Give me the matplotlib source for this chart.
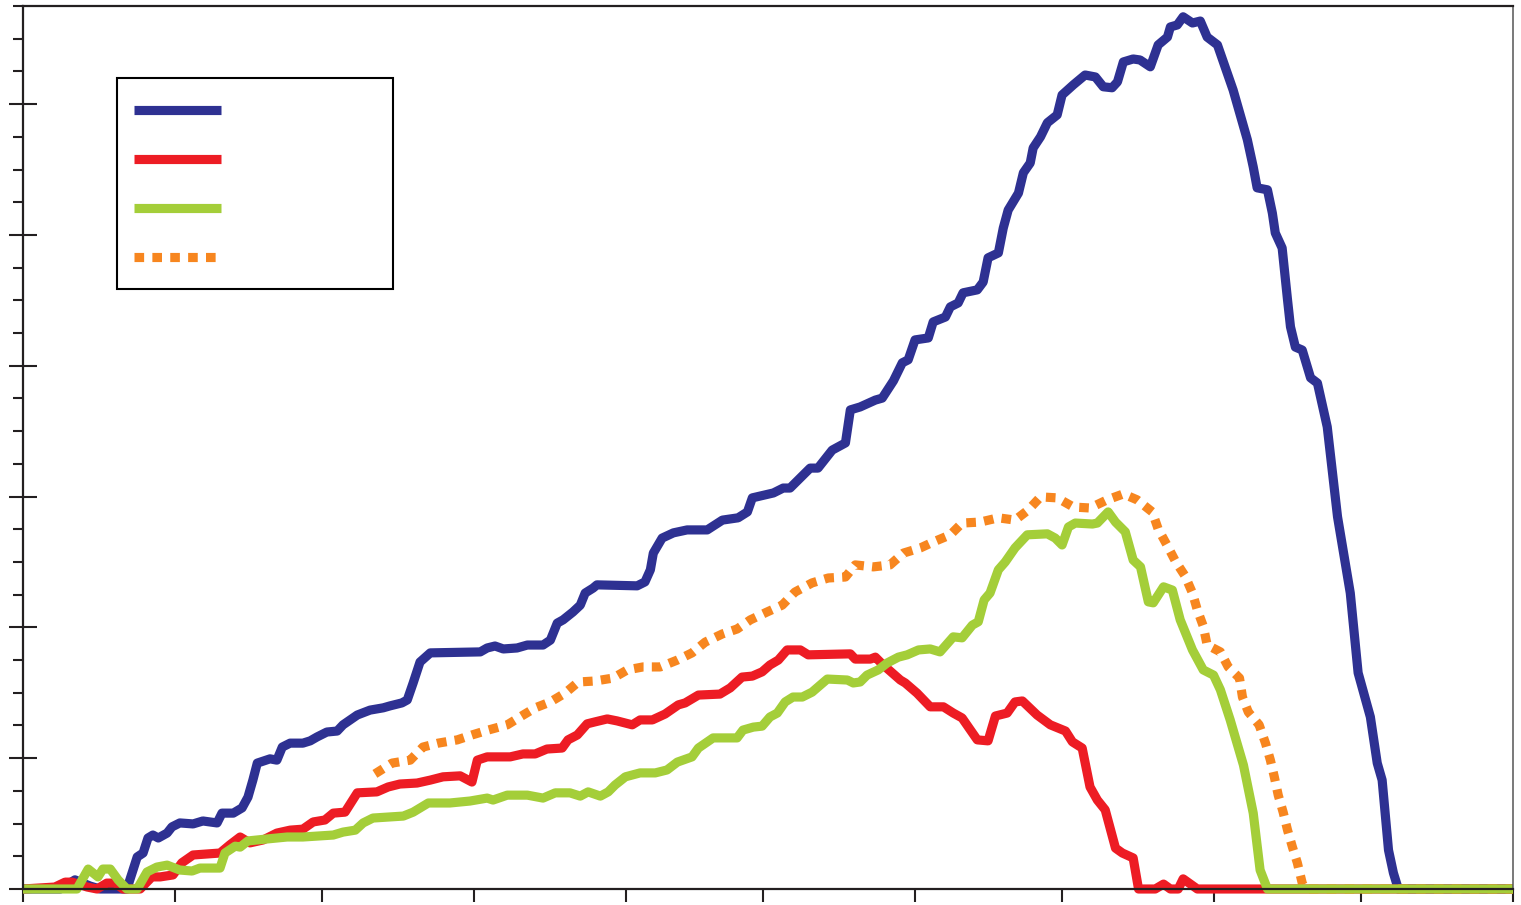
import pandas as pd
import matplotlib.pyplot as plt
import matplotlib.dates as mdates
from matplotlib.lines import Line2D
from matplotlib.patches import Rectangle

# Season runs 1 Oct - 1 Aug, x values are days since season start
season_start = pd.Timestamp("2008-10-01")
season_end = pd.Timestamp("2009-08-01")

blue_days = [0, 7.6, 10.6, 13.7, 15.7, 21.2, 23.3, 24.5, 25.5, 26.5, 27.6, 29.4, 30.4, 32.0,
             34.7, 36.7, 39.6, 40.6, 42.9, 44.7, 45.9, 46.9, 47.8, 49.0, 50.4, 51.8, 52.9,
             54.5, 57.1, 58.6, 60.0, 62.0, 64.1, 65.3, 68.2, 70.8, 73.5, 74.9, 77.3, 78.4,
             79.6, 81.0, 83.1, 93.3, 94.7, 96.3, 98.0, 100.8, 102.9, 106.1, 107.6, 109.0,
             110.2, 112.2, 113.7, 114.7, 116.3, 117.1, 125.3, 126.9, 128.0, 128.6, 130.4,
             132.7, 135.5, 139.6, 142.7, 145.9, 147.8, 148.8, 151.4, 153.1, 155.1, 156.5,
             160.6, 162.2, 165.1, 167.8, 168.8, 170.8, 173.9, 175.3, 177.6, 179.4, 180.6,
             182.0, 184.7, 185.7, 188.2, 189.2, 190.8, 191.8, 194.7, 195.9, 196.9, 199.0,
             200.0, 201.0, 203.1, 204.1, 205.5, 206.1, 207.6, 209.0, 211.0, 212.0, 214.3,
             216.7, 218.8, 220.4, 222.2, 223.3, 224.5, 226.5, 227.9, 230.0, 231.6, 233.5,
             234.1, 235.5, 236.7, 238.6, 240.2, 241.6, 243.7, 246.9, 249.8, 251.0, 251.8,
             253.9, 254.9, 255.5, 256.9, 258.0, 258.6, 259.6, 261.0, 262.7, 264.1, 266.1,
             268.2, 270.8, 272.4, 274.9, 276.3, 277.3, 278.6, 279.6, 280.6, 304]
blue_vals = [0, 0, 0.28, 0.09, 0, 0, 0.98, 1.10, 1.56, 1.65, 1.56, 1.71, 1.90, 2.02,
             1.99, 2.08, 2.02, 2.32, 2.32, 2.48, 2.81, 3.33, 3.85, 3.91, 3.98, 3.94, 4.34,
             4.46, 4.46, 4.53, 4.65, 4.80, 4.83, 5.02, 5.32, 5.47, 5.54, 5.60, 5.69, 5.78,
             6.30, 6.94, 7.22, 7.25, 7.37, 7.43, 7.34, 7.37, 7.46, 7.46, 7.61, 8.13,
             8.23, 8.47, 8.68, 9.05, 9.20, 9.30, 9.27, 9.39, 9.76, 10.27, 10.73,
             10.89, 10.98, 10.98, 11.28, 11.35, 11.53, 11.96, 12.05, 12.11, 12.26, 12.26,
             12.87, 12.87, 13.42, 13.64, 14.65, 14.74, 14.95, 15.01, 15.54, 16.09, 16.18,
             16.79, 16.85, 17.34, 17.49, 17.80, 17.92, 18.23, 18.32, 18.56, 19.30, 19.45,
             20.21, 20.76, 21.28, 21.90, 22.20, 22.66, 23.00, 23.43, 23.67, 24.28, 24.59,
             24.89, 24.83, 24.53, 24.50, 24.68, 25.29, 25.38, 25.35, 25.14, 25.81, 26.05,
             26.36, 26.42, 26.67, 26.48, 26.54, 26.05, 25.81, 24.43, 22.91, 22.08, 21.44,
             21.38, 20.67, 20.06, 19.60, 18.01, 17.19, 16.57, 16.48, 15.63, 15.47, 14.13,
             11.38, 9.05, 6.61, 5.26, 3.85, 3.33, 1.19, 0.49, 0, 0]

red_days = [0, 6.5, 8.6, 10.0, 13.1, 15.1, 17.1, 18.8, 20.4, 23.9, 26.3, 28.0, 30.6, 32.4,
            34.7, 40.2, 42.2, 44.3, 46.3, 49.0, 51.8, 54.5, 57.1, 59.2, 61.6, 63.3, 65.7,
            68.2, 72.2, 74.5, 76.9, 80.4, 83.1, 85.7, 89.2, 91.6, 92.7, 94.7, 99.4, 102.0,
            104.5, 106.9, 110.0, 111.2, 113.1, 115.1, 116.7, 119.2, 121.2, 124.3, 125.9,
            128.4, 131.0, 133.7, 135.1, 137.8, 142.2, 144.3, 146.7, 148.8, 150.8, 152.4,
            154.1, 155.9, 158.6, 160.2, 168.8, 169.8, 172.9, 173.9, 175.5, 179.0, 180.0,
            182.4, 185.1, 187.8, 189.8, 191.6, 194.7, 196.9, 198.4, 200.8, 202.4, 203.9,
            206.9, 209.6, 212.7, 214.1, 216.1, 217.7, 219.2, 220.8, 222.9, 224.3, 226.5,
            227.6, 231.0, 232.7, 234.1, 235.7, 236.7, 239.6, 304]
red_vals = [0, 0.06, 0.21, 0.21, 0.06, 0, 0.18, 0.18, 0, 0, 0.37, 0.37, 0.43, 0.80,
            1.04, 1.10, 1.35, 1.59, 1.41, 1.50, 1.71, 1.80, 1.83, 2.05, 2.11, 2.32, 2.35,
            2.94, 2.97, 3.12, 3.21, 3.24, 3.33, 3.43, 3.46, 3.27, 3.94, 4.04, 4.04, 4.13,
            4.13, 4.28, 4.31, 4.56, 4.71, 5.05, 5.11, 5.20, 5.14, 5.02, 5.17,
            5.17, 5.35, 5.63, 5.69, 5.93, 5.96, 6.15, 6.48, 6.51, 6.64, 6.85,
            7.00, 7.31, 7.31, 7.16, 7.19, 7.03, 7.03, 7.09, 6.85, 6.39, 6.30,
            5.99, 5.57, 5.57, 5.38, 5.23, 4.56, 4.53, 5.29, 5.38, 5.72, 5.75,
            5.32, 5.02, 4.83, 4.50, 4.31, 3.12, 2.72, 2.42, 1.25, 1.10, 0.95,
            0, 0, 0.15, 0, 0, 0.31, 0, 0]

green_days = [0, 11.0, 13.3, 15.3, 16.3, 17.8, 19.4, 21.2, 23.3, 25.3, 27.3, 29.4, 32.0,
              34.5, 36.1, 40.2, 41.2, 43.3, 44.3, 45.9, 49.8, 53.9, 57.1, 63.3, 65.3, 67.8,
              69.4, 71.4, 77.6, 79.6, 82.7, 87.1, 91.2, 94.7, 95.9, 98.8, 102.9, 106.1,
              108.6, 111.6, 113.7, 115.3, 117.8, 119.4, 120.8, 122.9, 125.9, 129.0, 131.4,
              133.5, 136.5, 137.8, 140.8, 145.7, 146.9, 149.0, 150.8, 152.4, 153.9, 155.5,
              157.1, 159.0, 161.0, 162.7, 164.1, 168.2, 169.4, 170.8, 172.2, 174.5, 176.3,
              178.6, 180.4, 182.7, 185.1, 187.1, 189.8, 191.6, 193.7, 194.9, 196.1, 197.3,
              199.0, 200.4, 202.4, 204.9, 209.0, 210.6, 212.0, 213.3, 214.7, 218.2, 219.2,
              221.4, 222.9, 224.9, 226.5, 228.0, 229.6, 230.6, 232.7, 234.5, 236.1, 238.6,
              240.8, 242.9, 244.3, 246.3, 249.0, 251.0, 252.4, 253.9, 304]
green_vals = [0, 0, 0.61, 0.37, 0.61, 0.61, 0.28, 0, 0, 0.52, 0.67, 0.73, 0.58,
              0.55, 0.64, 0.64, 1.10, 1.31, 1.28, 1.47, 1.53, 1.59, 1.59, 1.65, 1.74, 1.80,
              2.02, 2.17, 2.23, 2.35, 2.63, 2.63, 2.69, 2.78, 2.72, 2.87, 2.87, 2.78,
              2.94, 2.94, 2.84, 2.97, 2.84, 2.97, 3.18, 3.43, 3.55, 3.55, 3.64,
              3.88, 4.04, 4.31, 4.62, 4.62, 4.86, 4.95, 4.98, 5.26, 5.38, 5.72,
              5.87, 5.87, 6.02, 6.24, 6.42, 6.39, 6.30, 6.33, 6.54, 6.70, 6.91,
              7.09, 7.16, 7.31, 7.34, 7.25, 7.71, 7.68, 8.07, 8.17, 8.84, 9.05,
              9.76, 10.00, 10.43, 10.83, 10.86, 10.73, 10.52, 11.07, 11.19, 11.16, 11.19,
              11.53, 11.22, 10.92, 10.06, 9.85, 8.78, 8.75, 9.24, 9.14, 8.23, 7.31,
              6.70, 6.54, 6.09, 5.17, 3.79, 2.32, 0.58, 0, 0]

orange_days = [71.8, 75.3, 79.0, 81.6, 84.7, 88.6, 91.6, 94.9, 98.8, 101.4, 104.5, 107.6,
               110.6, 113.3, 116.7, 120.4, 123.3, 126.5, 130.0, 133.5, 136.5, 139.2, 142.7,
               145.7, 148.4, 151.8, 154.9, 157.5, 161.0, 164.3, 167.8, 169.8, 173.5, 176.9,
               179.6, 183.1, 185.7, 189.2, 191.6, 195.3, 199.0, 202.4, 205.1, 207.6, 211.0,
               214.3, 217.7, 221.2, 224.5, 227.3, 230.4, 231.6, 233.5, 235.1, 237.1, 238.6,
               239.6, 240.8, 241.6, 244.3, 245.9, 248.2, 248.8, 250.0, 252.2, 253.5, 254.5,
               255.3, 256.1, 257.1, 258.0, 259.0, 260.0, 261.0, 261.6, 304]
orange_vals = [3.52, 3.85, 3.94, 4.34, 4.46, 4.56, 4.71, 4.86, 5.02, 5.26, 5.54, 5.72,
               5.99, 6.33, 6.36, 6.45, 6.70, 6.79, 6.79, 7.00, 7.22, 7.55, 7.80,
               7.95, 8.23, 8.47, 8.68, 9.08, 9.36, 9.51, 9.54, 9.91, 9.85, 9.91,
               10.27, 10.43, 10.61, 10.83, 11.19, 11.22, 11.35, 11.28, 11.59, 11.99, 11.96,
               11.68, 11.65, 11.90, 12.08, 11.90, 11.53, 11.01, 10.49, 10.03, 9.57, 9.05,
               8.53, 8.04, 7.46, 7.25, 6.79, 6.45, 5.87, 5.41, 5.02, 4.46, 3.94,
               3.43, 2.87, 2.35, 1.80, 1.28, 0.80, 0.18, 0, 0]

series = [
    (blue_days, blue_vals, "#2E3192", "-"),
    (red_days, red_vals, "#ED1C24", "-"),
    (orange_days, orange_vals, "#F7861F", (0, (1.05, 0.9))),
    (green_days, green_vals, "#A4CE39", "-"),
]

ink = "#231F20"
lw = 6.6

fig = plt.figure(figsize=(15.21, 9.05), dpi=100)
ax = fig.add_axes([23 / 1521, 16 / 905, 1490 / 1521, 883 / 905])

for days, vals, color, style in series:
    dates = season_start + pd.to_timedelta(days, unit="D")
    ax.plot(dates, vals, color=color, linestyle=style, linewidth=lw,
            solid_joinstyle="round", solid_capstyle="butt", dash_capstyle="butt",
            clip_on=False)

ax.set_xlim(season_start, season_end)
ax.set_ylim(0, 27)

ax.xaxis.set_major_locator(mdates.MonthLocator())
ax.yaxis.set_minor_locator(plt.MultipleLocator(1))
ax.set_yticks([0, 4, 8, 12, 16, 20, 24])
ax.tick_params(axis="x", which="major", direction="out", length=9.5, width=1.5,
               color=ink, labelbottom=False)
ax.tick_params(axis="x", which="minor", length=0)
ax.tick_params(axis="y", which="major", direction="inout", length=20, width=1.5,
               color=ink, labelleft=False)
ax.tick_params(axis="y", which="minor", direction="out", length=7, width=1.5, color=ink)

for side in ["left", "bottom", "top"]:
    ax.spines[side].set_color(ink)
    ax.spines[side].set_linewidth(1.6)
ax.spines["right"].set_color("#555555")
ax.spines["right"].set_linewidth(1.1)

# legend box with line samples only
ax.add_patch(Rectangle((0.0631, 0.6795), 0.1852, 0.2390, transform=ax.transAxes,
                       facecolor="white", edgecolor="black", linewidth=1.5, zorder=5))
legend_order = [series[0], series[1], series[3], series[2]]
for i, (_, _, color, style) in enumerate(legend_order):
    y = 0.8822 - i * 0.0555
    ax.add_line(Line2D([0.0745, 0.1329], [y, y], transform=ax.transAxes, color=color,
                       linestyle=style, linewidth=lw, solid_capstyle="butt",
                       dash_capstyle="butt", zorder=6))

fig.savefig("out.png", dpi=100)
